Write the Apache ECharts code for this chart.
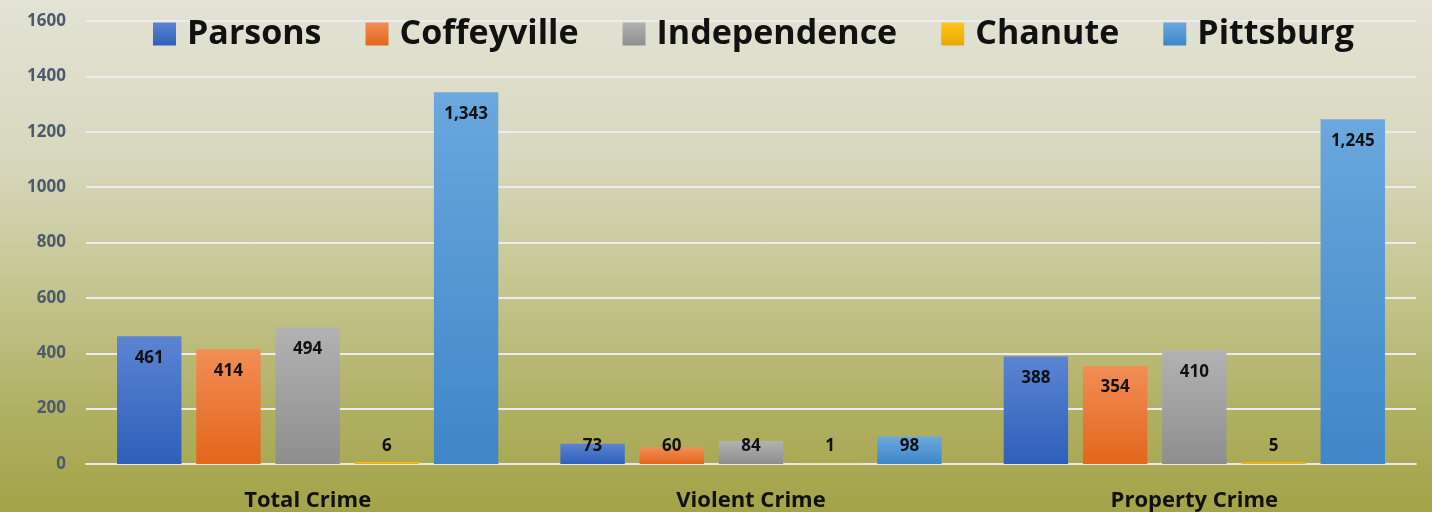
<!DOCTYPE html>
<html>
<head>
<meta charset="utf-8">
<script src="https://cdn.jsdelivr.net/npm/echarts@6/dist/echarts.min.js"></script>
<style>
  html, body { margin: 0; padding: 0; }
  #chart {
    width: 1432px; height: 512px;
    background: linear-gradient(to bottom, #e3e3d6 0%, #d8d8bf 30%, #c6c692 55%, #b0b064 80%, #a3a348 100%);
  }
</style>
</head>
<body>
<div id="chart"></div>
<script>
// Crime counts by city
const categories = ['Total Crime', 'Violent Crime', 'Property Crime'];
const cities = ['Parsons', 'Coffeyville', 'Independence', 'Chanute', 'Pittsburg'];
const parsons = [461, 73, 388];
const coffeyville = [414, 60, 354];
const independence = [494, 84, 410];
const chanute = [6, 1, 5];
const pittsburg = [1343, 98, 1245];
const yTicks = [0, 200, 400, 600, 800, 1000, 1200, 1400, 1600];

const values = [parsons, coffeyville, independence, chanute, pittsburg];
const colors = [
    ['#5b84d2', '#2f5fba'],
    ['#f28d55', '#e3661b'],
    ['#b2b2b2', '#8e8e8e'],
    ['#ffc61a', '#e8a800'],
    ['#6aa8de', '#3f86c8']
];

const FONT = '"Open Sans", "Liberation Sans", sans-serif';

function grad(c) {
    return new echarts.graphic.LinearGradient(0, 0, 0, 1, [
        { offset: 0, color: c[0] },
        { offset: 1, color: c[1] }
    ]);
}

// short bars: Excel pushes the label up to a fixed spot above the axis
function labelFor(v) {
    if (v < 150) {
        return { position: 'insideBottom', distance: 9 };
    }
    return { position: 'insideTop', distance: 13 };
}

const series = cities.map((name, i) => ({
    name: name,
    type: 'bar',
    barGap: '23%',
    barCategoryGap: '14%',
    itemStyle: { color: grad(colors[i]) },
    label: {
        show: true,
        color: '#111',
        fontFamily: FONT,
        fontWeight: 'bold',
        fontSize: 17,
        formatter: p => p.value.toLocaleString('en-US')
    },
    data: values[i].map(v => ({ value: v, label: labelFor(v) }))
}));

const chart = echarts.init(document.getElementById('chart'));
chart.setOption({
    backgroundColor: 'transparent',
    animation: false,
    legend: {
        top: 12,
        left: 148,
        itemWidth: 23,
        itemHeight: 23,
        itemGap: 44,
        icon: 'rect',
        textStyle: {
            fontFamily: FONT,
            fontWeight: 'bold',
            fontSize: 34,
            color: '#111',
            padding: [0, 0, 0, 6]
        },
        data: cities.map((c, i) => ({ name: c, itemStyle: { color: grad(colors[i]) } }))
    },
    grid: { left: 86, right: 16, top: 21, bottom: 47 },
    xAxis: {
        type: 'category',
        data: categories,
        axisLine: { lineStyle: { color: '#e8e8e8', width: 2 } },
        axisTick: { show: false },
        axisLabel: {
            fontFamily: FONT,
            fontWeight: 'bold',
            fontSize: 22,
            color: '#111',
            margin: 26
        }
    },
    yAxis: {
        type: 'value',
        min: yTicks[0],
        max: yTicks[yTicks.length - 1],
        interval: yTicks[1] - yTicks[0],
        axisLine: { show: false },
        axisTick: { show: false },
        splitLine: { lineStyle: { color: '#ececec', width: 2 } },
        axisLabel: {
            fontFamily: FONT,
            fontWeight: 'bold',
            fontSize: 17,
            color: '#4c5a70',
            margin: 20,
            formatter: v => String(v)
        }
    },
    series: series
});
</script>
</body>
</html>
